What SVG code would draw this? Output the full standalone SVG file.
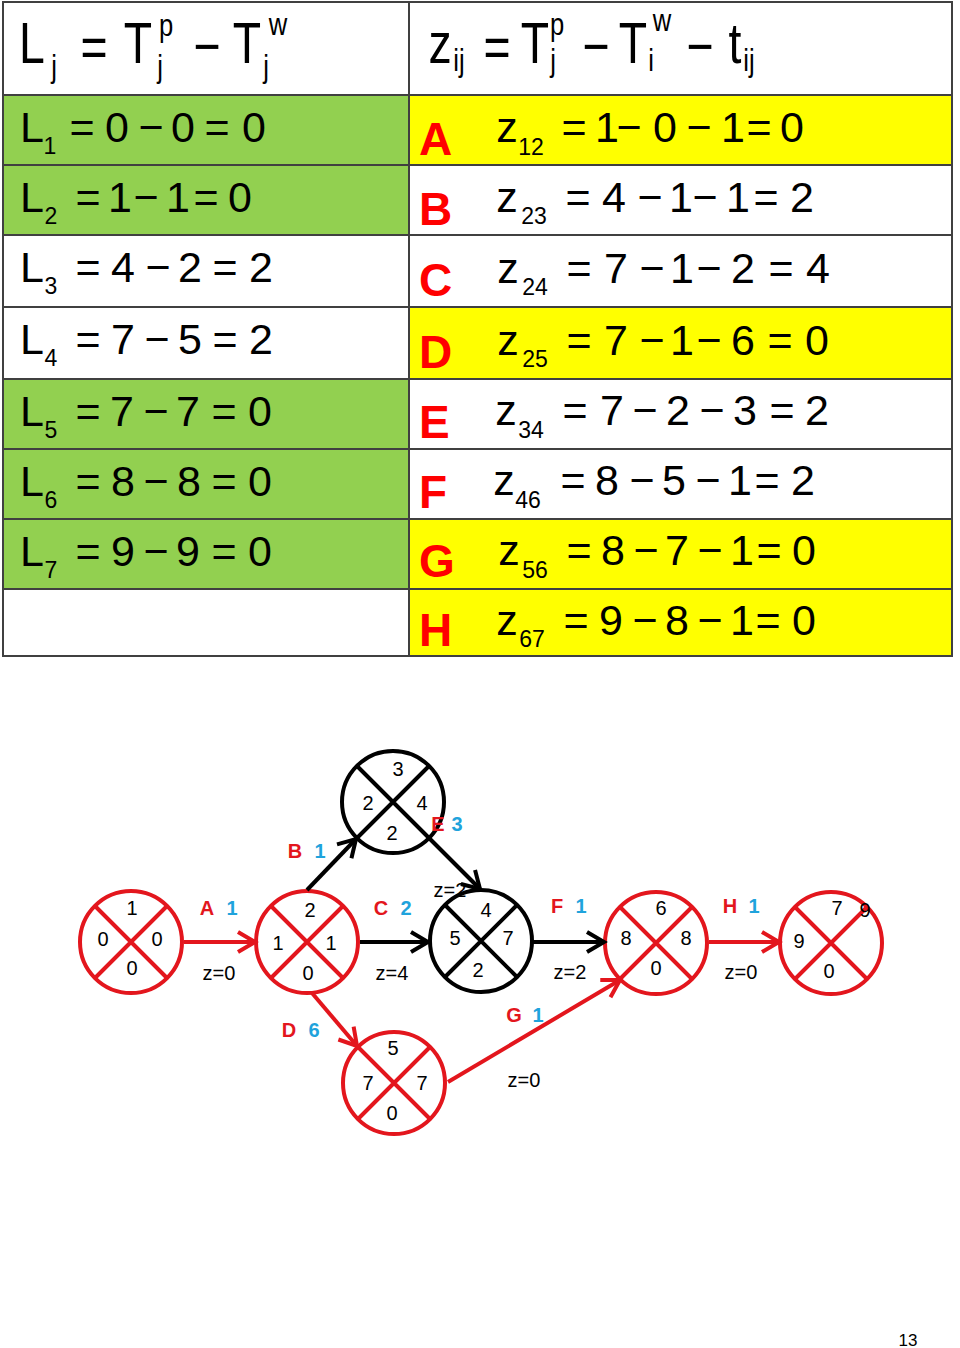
<svg xmlns="http://www.w3.org/2000/svg" width="960" height="1348" viewBox="0 0 960 1348">
<style>
.eq{font-family:"Liberation Sans",Arial,sans-serif;font-size:43px;fill:#000;text-anchor:middle}
.sb{font-family:"Liberation Sans",Arial,sans-serif;font-size:23px;fill:#000;text-anchor:middle}
.hd{font-family:"Liberation Sans",Arial,sans-serif;font-size:58px;fill:#000;text-anchor:middle}
.hs{font-family:"Liberation Sans",Arial,sans-serif;font-size:32px;fill:#000;text-anchor:middle}
.let{font-family:"Liberation Sans",Arial,sans-serif;font-size:46px;font-weight:bold;fill:#ff0000}
.grid{stroke:#404040;stroke-width:2;fill:none}
.nr{fill:#fff;stroke:#e3161d;stroke-width:4}
.nb{fill:#fff;stroke:#000;stroke-width:4}
.xr{stroke:#e3161d;stroke-width:4}
.xb{stroke:#000;stroke-width:4}
.num{font-family:"Liberation Sans",Arial,sans-serif;font-size:20px;fill:#000;text-anchor:middle}
.lr{font-family:"Liberation Sans",Arial,sans-serif;font-size:20px;font-weight:bold;fill:#e3161d;text-anchor:middle}
.lb{font-family:"Liberation Sans",Arial,sans-serif;font-size:20px;font-weight:bold;fill:#1fa3dc;text-anchor:middle}
.er{stroke:#e3161d;stroke-width:4;fill:none}
.eb{stroke:#000;stroke-width:4;fill:none}
</style>
<defs>
<marker id="arR" markerUnits="userSpaceOnUse" markerWidth="28" markerHeight="28" refX="22" refY="14" orient="auto"><path d="M5,4 L22,14 L5,24" fill="none" stroke="#e3161d" stroke-width="4"/></marker>
<marker id="arB" markerUnits="userSpaceOnUse" markerWidth="28" markerHeight="28" refX="22" refY="14" orient="auto"><path d="M5,4 L22,14 L5,24" fill="none" stroke="#000" stroke-width="4"/></marker>
</defs>
<rect width="960" height="1348" fill="#fff"/>

<g id="table">
<rect x="3" y="95" width="406" height="494" fill="#92d050"/>
<rect x="409" y="95" width="543" height="70" fill="#ffff00"/>
<rect x="409" y="307" width="543" height="72" fill="#ffff00"/>
<rect x="409" y="519" width="543" height="137" fill="#ffff00"/>
<rect x="3" y="235" width="406" height="144" fill="#fff"/>
<rect class="grid" x="3" y="2" width="949" height="654"/>
<path class="grid" d="M409,2V656M3,95H952M3,165H952M3,235H952M3,307H952M3,379H952M3,449H952M3,519H952M3,589H952"/>

<g id="hdr-left">
<text class="hd" transform="translate(32,63) scale(0.8,1)">L</text>
<text class="hs" transform="translate(54,77) scale(0.8,1)">j</text>
<text class="hd" transform="translate(94,67) scale(0.8,1)">=</text>
<text class="hd" transform="translate(138,63) scale(0.8,1)">T</text>
<text class="hs" transform="translate(166,36) scale(0.8,1)">p</text>
<text class="hs" transform="translate(160,77) scale(0.8,1)">j</text>
<text class="hd" transform="translate(207,66) scale(0.8,1)">−</text>
<text class="hd" transform="translate(247,63) scale(0.8,1)">T</text>
<text class="hs" transform="translate(278,35) scale(0.8,1)">w</text>
<text class="hs" transform="translate(266,77) scale(0.8,1)">j</text>
</g>
<g id="hdr-right">
<text class="hd" transform="translate(440,63) scale(0.8,1)">z</text>
<text class="hs" transform="translate(459,71) scale(0.8,1)">ij</text>
<text class="hd" transform="translate(497,67) scale(0.8,1)">=</text>
<text class="hd" transform="translate(535,63) scale(0.8,1)">T</text>
<text class="hs" transform="translate(557,35) scale(0.8,1)">p</text>
<text class="hs" transform="translate(553,71) scale(0.8,1)">j</text>
<text class="hd" transform="translate(596,66) scale(0.8,1)">−</text>
<text class="hd" transform="translate(633,63) scale(0.8,1)">T</text>
<text class="hs" transform="translate(662,31) scale(0.8,1)">w</text>
<text class="hs" transform="translate(651,71) scale(0.8,1)">i</text>
<text class="hd" transform="translate(700,66) scale(0.8,1)">−</text>
<text class="hd" transform="translate(735,63) scale(0.8,1)">t</text>
<text class="hs" transform="translate(749,71) scale(0.8,1)">ij</text>
</g>

<g id="L-rows">
<text class="eq" x="32" y="142">L</text><text class="sb" x="50" y="154">1</text>
<text class="eq" x="82" y="142">=</text><text class="eq" x="117" y="142">0</text><text class="eq" x="151" y="142">−</text><text class="eq" x="183" y="142">0</text><text class="eq" x="217" y="142">=</text><text class="eq" x="254" y="142">0</text>

<text class="eq" x="32" y="212">L</text><text class="sb" x="51" y="224">2</text>
<text class="eq" x="88" y="212">=</text><text class="eq" x="120" y="212">1</text><text class="eq" x="146" y="212">−</text><text class="eq" x="178" y="212">1</text><text class="eq" x="206" y="212">=</text><text class="eq" x="240" y="212">0</text>

<text class="eq" x="32" y="282">L</text><text class="sb" x="51" y="294">3</text>
<text class="eq" x="88" y="282">=</text><text class="eq" x="123" y="282">4</text><text class="eq" x="158" y="282">−</text><text class="eq" x="190" y="282">2</text><text class="eq" x="225" y="282">=</text><text class="eq" x="261" y="282">2</text>

<text class="eq" x="32" y="354">L</text><text class="sb" x="51" y="366">4</text>
<text class="eq" x="88" y="354">=</text><text class="eq" x="123" y="354">7</text><text class="eq" x="157" y="354">−</text><text class="eq" x="190" y="354">5</text><text class="eq" x="225" y="354">=</text><text class="eq" x="261" y="354">2</text>

<text class="eq" x="32" y="426">L</text><text class="sb" x="51" y="438">5</text>
<text class="eq" x="88" y="426">=</text><text class="eq" x="122" y="426">7</text><text class="eq" x="156" y="426">−</text><text class="eq" x="188" y="426">7</text><text class="eq" x="224" y="426">=</text><text class="eq" x="260" y="426">0</text>

<text class="eq" x="32" y="496">L</text><text class="sb" x="51" y="508">6</text>
<text class="eq" x="88" y="496">=</text><text class="eq" x="123" y="496">8</text><text class="eq" x="156" y="496">−</text><text class="eq" x="189" y="496">8</text><text class="eq" x="224" y="496">=</text><text class="eq" x="260" y="496">0</text>

<text class="eq" x="32" y="566">L</text><text class="sb" x="51" y="578">7</text>
<text class="eq" x="88" y="566">=</text><text class="eq" x="123" y="566">9</text><text class="eq" x="156" y="566">−</text><text class="eq" x="188" y="566">9</text><text class="eq" x="224" y="566">=</text><text class="eq" x="260" y="566">0</text>
</g>

<g id="z-rows">
<text class="let" x="419" y="155">A</text>
<text class="eq" x="507" y="142">z</text><text class="sb" x="531" y="155">12</text>
<text class="eq" x="574" y="142">=</text><text class="eq" x="607" y="142">1</text><text class="eq" x="629" y="142">−</text><text class="eq" x="665" y="142">0</text><text class="eq" x="699" y="142">−</text><text class="eq" x="733" y="142">1</text><text class="eq" x="759" y="142">=</text><text class="eq" x="792" y="142">0</text>

<text class="let" x="419" y="225">B</text>
<text class="eq" x="507" y="212">z</text><text class="sb" x="534" y="224">23</text>
<text class="eq" x="578" y="212">=</text><text class="eq" x="614" y="212">4</text><text class="eq" x="650" y="212">−</text><text class="eq" x="681" y="212">1</text><text class="eq" x="705" y="212">−</text><text class="eq" x="738" y="212">1</text><text class="eq" x="766" y="212">=</text><text class="eq" x="802" y="212">2</text>

<text class="let" x="419" y="296">C</text>
<text class="eq" x="508" y="283">z</text><text class="sb" x="535" y="295">24</text>
<text class="eq" x="579" y="283">=</text><text class="eq" x="616" y="283">7</text><text class="eq" x="652" y="283">−</text><text class="eq" x="682" y="283">1</text><text class="eq" x="709" y="283">−</text><text class="eq" x="743" y="283">2</text><text class="eq" x="781" y="283">=</text><text class="eq" x="818" y="283">4</text>

<text class="let" x="419" y="368">D</text>
<text class="eq" x="508" y="355">z</text><text class="sb" x="535" y="367">25</text>
<text class="eq" x="579" y="355">=</text><text class="eq" x="616" y="355">7</text><text class="eq" x="652" y="355">−</text><text class="eq" x="682" y="355">1</text><text class="eq" x="709" y="355">−</text><text class="eq" x="743" y="355">6</text><text class="eq" x="780" y="355">=</text><text class="eq" x="817" y="355">0</text>

<text class="let" x="419" y="438">E</text>
<text class="eq" x="506" y="425">z</text><text class="sb" x="531" y="438">34</text>
<text class="eq" x="575" y="425">=</text><text class="eq" x="612" y="425">7</text><text class="eq" x="645" y="425">−</text><text class="eq" x="678" y="425">2</text><text class="eq" x="712" y="425">−</text><text class="eq" x="745" y="425">3</text><text class="eq" x="782" y="425">=</text><text class="eq" x="817" y="425">2</text>

<text class="let" x="419" y="508">F</text>
<text class="eq" x="504" y="495">z</text><text class="sb" x="528" y="508">46</text>
<text class="eq" x="573" y="495">=</text><text class="eq" x="607" y="495">8</text><text class="eq" x="642" y="495">−</text><text class="eq" x="674" y="495">5</text><text class="eq" x="708" y="495">−</text><text class="eq" x="740" y="495">1</text><text class="eq" x="767" y="495">=</text><text class="eq" x="803" y="495">2</text>

<text class="let" x="419" y="577">G</text>
<text class="eq" x="509" y="565">z</text><text class="sb" x="535" y="578">56</text>
<text class="eq" x="579" y="565">=</text><text class="eq" x="613" y="565">8</text><text class="eq" x="646" y="565">−</text><text class="eq" x="677" y="565">7</text><text class="eq" x="710" y="565">−</text><text class="eq" x="742" y="565">1</text><text class="eq" x="769" y="565">=</text><text class="eq" x="804" y="565">0</text>

<text class="let" x="419" y="646">H</text>
<text class="eq" x="507" y="635">z</text><text class="sb" x="532" y="647">67</text>
<text class="eq" x="576" y="635">=</text><text class="eq" x="611" y="635">9</text><text class="eq" x="645" y="635">−</text><text class="eq" x="677" y="635">8</text><text class="eq" x="710" y="635">−</text><text class="eq" x="742" y="635">1</text><text class="eq" x="768" y="635">=</text><text class="eq" x="804" y="635">0</text>
</g>
</g>

<g id="n1">
<circle class="nr" cx="131" cy="942" r="51"/>
<path class="xr" d="M95,906L167,978M167,906L95,978"/>
<text class="num" x="132" y="915">1</text><text class="num" x="103" y="946">0</text><text class="num" x="157" y="946">0</text><text class="num" x="132" y="975">0</text>
</g>
<g id="n2">
<circle class="nr" cx="307" cy="942" r="51"/>
<path class="xr" d="M271,906L343,978M343,906L271,978"/>
<text class="num" x="310" y="917">2</text><text class="num" x="278" y="950">1</text><text class="num" x="331" y="950">1</text><text class="num" x="308" y="980">0</text>
</g>
<g id="n3">
<circle class="nb" cx="393" cy="802" r="51"/>
<path class="xb" d="M357,766L429,838M429,766L357,838"/>
<text class="num" x="398" y="776">3</text><text class="num" x="368" y="810">2</text><text class="num" x="422" y="810">4</text><text class="num" x="392" y="840">2</text>
</g>
<g id="n4">
<circle class="nb" cx="481" cy="941" r="51"/>
<path class="xb" d="M445,905L517,977M517,905L445,977"/>
<text class="num" x="486" y="917">4</text><text class="num" x="455" y="945">5</text><text class="num" x="508" y="945">7</text><text class="num" x="478" y="977">2</text>
</g>
<g id="n5">
<circle class="nr" cx="394" cy="1083" r="51"/>
<path class="xr" d="M358,1047L430,1119M430,1047L358,1119"/>
<text class="num" x="393" y="1055">5</text><text class="num" x="368" y="1090">7</text><text class="num" x="422" y="1090">7</text><text class="num" x="392" y="1120">0</text>
</g>
<g id="n6">
<circle class="nr" cx="656" cy="943" r="51"/>
<path class="xr" d="M620,907L692,979M692,907L620,979"/>
<text class="num" x="661" y="915">6</text><text class="num" x="626" y="945">8</text><text class="num" x="686" y="945">8</text><text class="num" x="656" y="975">0</text>
</g>
<g id="n7">
<circle class="nr" cx="831" cy="943" r="51"/>
<path class="xr" d="M795,907L867,979M867,907L795,979"/>
<text class="num" x="837" y="915">7</text><text class="num" x="865" y="917">9</text><text class="num" x="799" y="948">9</text><text class="num" x="829" y="978">0</text>
</g>

<g id="edge-labels">
<text class="lr" x="207" y="915">A</text><text class="lb" x="232" y="915">1</text><text class="num" x="219" y="980">z=0</text>
<text class="lr" x="295" y="858">B</text><text class="lb" x="320" y="858">1</text>
<text class="lr" x="381" y="915">C</text><text class="lb" x="406" y="915">2</text><text class="num" x="392" y="980">z=4</text>
<text class="lr" x="289" y="1037">D</text><text class="lb" x="314" y="1037">6</text>
<text class="lr" x="438" y="831">E</text><text class="lb" x="457" y="831">3</text><text class="num" x="450" y="897">z=2</text>
<text class="lr" x="557" y="913">F</text><text class="lb" x="581" y="913">1</text><text class="num" x="570" y="979">z=2</text>
<text class="lr" x="514" y="1022">G</text><text class="lb" x="538" y="1022">1</text><text class="num" x="524" y="1087">z=0</text>
<text class="lr" x="730" y="913">H</text><text class="lb" x="754" y="913">1</text><text class="num" x="741" y="979">z=0</text>
</g>

<g id="connectors">
<line class="er" x1="184" y1="942" x2="255" y2="942" marker-end="url(#arR)"/>
<line class="eb" x1="307" y1="890" x2="356" y2="839" marker-end="url(#arB)"/>
<line class="eb" x1="360" y1="942" x2="428" y2="942" marker-end="url(#arB)"/>
<line class="er" x1="312" y1="993" x2="357" y2="1046" marker-end="url(#arR)"/>
<line class="eb" x1="430" y1="839" x2="480" y2="889" marker-end="url(#arB)"/>
<line class="eb" x1="533" y1="942" x2="604" y2="942" marker-end="url(#arB)"/>
<line class="er" x1="448" y1="1082" x2="620" y2="980" marker-end="url(#arR)"/>
<line class="er" x1="709" y1="942" x2="779" y2="942" marker-end="url(#arR)"/>
</g>

<text x="908" y="1346" font-family="'Liberation Sans',Arial,sans-serif" font-size="17" text-anchor="middle" fill="#000">13</text>
</svg>
